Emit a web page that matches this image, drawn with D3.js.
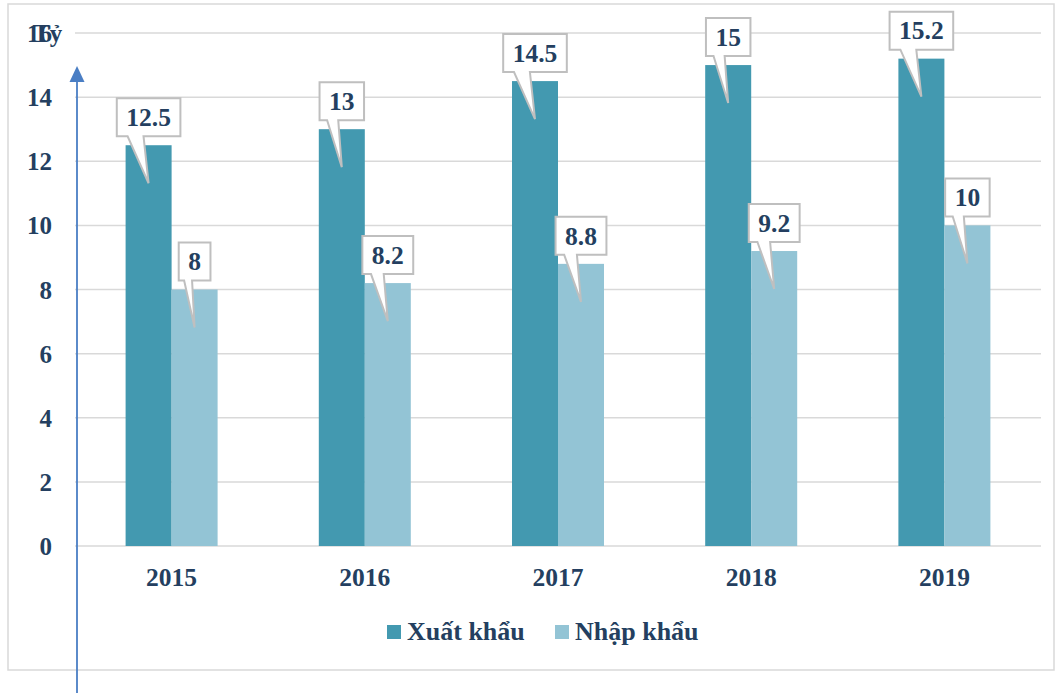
<!DOCTYPE html>
<html><head><meta charset="utf-8">
<script src="https://cdn.jsdelivr.net/npm/d3@7"></script>
<style>body{margin:0;background:#fff}svg{display:block}</style>
</head><body>
<svg id="c" width="1059" height="693"></svg>
<script>
const years = ["2015","2016","2017","2018","2019"];
const seriesNames = ["Xuất khẩu","Nhập khẩu"];
const xuatKhau = [12.5, 13, 14.5, 15, 15.2];
const nhapKhau = [8, 8.2, 8.8, 9.2, 10];
const yTicks = [0,2,4,6,8,10,12,14,16];
const unitLabel = "Tỷ";

const colors = ["#4399B0", "#93C4D5"];
const textColor = "#243F60";
const font = "'Liberation Serif','Times New Roman',serif";

const svg = d3.select("#c");
const W = 1059, H = 693;
const plot = {l:75, r:1041, t:33, b:546};

// border
svg.append("rect").attr("x",8).attr("y",4).attr("width",1046).attr("height",666)
  .attr("fill","#fff").attr("stroke","#D9D9D9").attr("stroke-width",1.5);

const x = d3.scaleBand().domain(years).range([plot.l, plot.r]).paddingInner(0).paddingOuter(0);
const y = d3.scaleLinear().domain([0,16]).range([plot.b, plot.t]);
const sub = d3.scaleBand().domain(seriesNames).range([0, 92]);
const groupOffset = (x.bandwidth() - 92)/2;

// gridlines
svg.append("g").selectAll("line").data(yTicks).join("line")
  .attr("x1",plot.l).attr("x2",plot.r)
  .attr("y1",d=>y(d)).attr("y2",d=>y(d))
  .attr("stroke","#D9D9D9").attr("stroke-width",1.5);

// y labels
const yAxis = d3.axisLeft(y).tickValues(yTicks).tickSize(0).tickPadding(0);
const ya = svg.append("g").attr("transform",`translate(52,0)`).call(yAxis);
ya.select(".domain").remove();
ya.selectAll("text").attr("font-family",font).attr("font-weight","bold")
  .attr("font-size",25).attr("fill",textColor).attr("dy","0.34em");

svg.append("text").attr("x",33).attr("y",y(16)).attr("dy","0.34em").text(unitLabel)
  .attr("font-family",font).attr("font-weight","bold").attr("font-size",25).attr("fill",textColor);

// x labels
const xAxis = d3.axisBottom(x).tickSize(0).tickPadding(0);
const xa = svg.append("g").attr("transform",`translate(0,${plot.b+22})`).call(xAxis);
xa.select(".domain").remove();
xa.selectAll("text").attr("font-family",font).attr("font-weight","bold")
  .attr("font-size",25.5).attr("fill",textColor).attr("dy","0.71em");

const data = [xuatKhau, nhapKhau];
const bars = [];
data.forEach((vals,si)=>{
  vals.forEach((v,i)=>{
    bars.push({si, year:years[i], v, x: x(years[i]) + groupOffset + sub(seriesNames[si]), w: sub.bandwidth()});
  });
});

svg.append("g").selectAll("rect").data(bars).join("rect")
  .attr("x",d=>d.x).attr("y",d=>y(d.v)).attr("width",d=>d.w).attr("height",d=>y(0)-y(d.v))
  .attr("fill",d=>colors[d.si]);

// callout labels
const lg = svg.append("g");
bars.forEach(d=>{
  const g = lg.append("g");
  const t = g.append("text").text(d.v).attr("font-family",font).attr("font-weight","bold")
    .attr("font-size",25.5).attr("fill",textColor).attr("text-anchor","middle");
  const tw = t.node().getComputedTextLength();
  const bw = tw + 19, bh = 38;
  const cx = d.x + d.w/2;
  const top = y(d.v);
  const bx = cx - bw/2, by = top - 9 - bh;
  const tipY = top + 38;
  const p1 = bx + 0.17*bw, p2 = bx + 0.42*bw;
  const path = `M${bx},${by} H${bx+bw} V${by+bh} H${p2} L${cx},${tipY} L${p1},${by+bh} H${bx} Z`;
  g.insert("path","text").attr("d",path).attr("fill","#fff").attr("stroke","#BFBFBF").attr("stroke-width",2);
  t.attr("x",cx).attr("y",by+bh/2).attr("dy","0.34em");
});

// legend
const legend = svg.append("g");
const legX = [387, 555];
seriesNames.forEach((n,i)=>{
  legend.append("rect").attr("x",legX[i]).attr("y",625).attr("width",14).attr("height",14).attr("fill",colors[i]);
  legend.append("text").attr("x",legX[i]+20).attr("y",640).text(n)
    .attr("font-family",font).attr("font-weight","bold").attr("font-size",26).attr("fill",textColor);
});

// blue arrow
svg.append("line").attr("x1",77).attr("x2",77).attr("y1",80).attr("y2",H)
  .attr("stroke","#4A7EC4").attr("stroke-width",1.8);
svg.append("path").attr("d","M77,66 L84.5,82 L69.5,82 Z").attr("fill","#4A7EC4");
</script>
</body></html>
